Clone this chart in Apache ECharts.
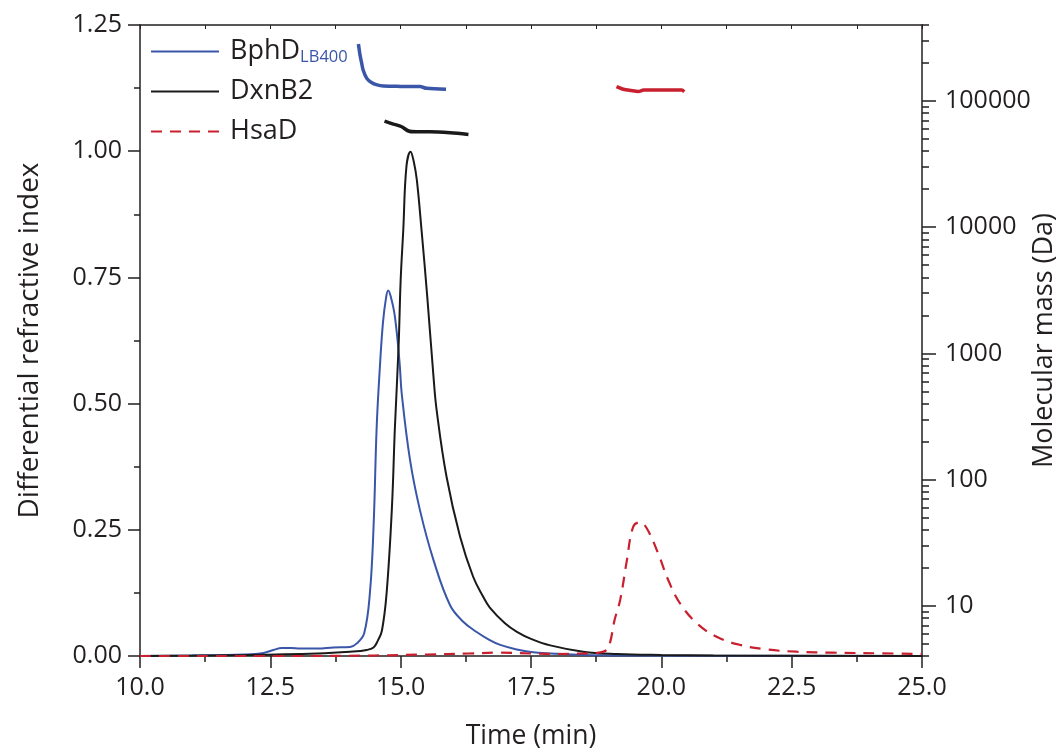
<!DOCTYPE html>
<html>
<head>
<meta charset="utf-8">
<script src="https://cdn.jsdelivr.net/npm/echarts@6/dist/echarts.min.js"></script>
<style>
html,body{margin:0;padding:0;background:#fff;}
#chart{width:1060px;height:749px;}
</style>
</head>
<body>
<div id="chart"></div>
<script>
// ---- Data ----
const xTickLabels = ['10.0','12.5','15.0','17.5','20.0','22.5','25.0'];
const yTickLabels = ['0.00','0.25','0.50','0.75','1.00','1.25'];
const massTickValues = [10, 100, 1000, 10000, 100000];

// Differential refractive index traces
const bphdT  = [10, 11, 12, 12.37, 12.56, 12.72, 12.9, 13.07, 13.4, 13.71, 14.03, 14.16, 14.3, 14.41, 14.48, 14.54, 14.60, 14.66, 14.72, 14.76, 14.81, 14.89, 14.98, 15.02, 15.18, 15.37, 15.63, 15.95, 16.2, 16.45, 16.7, 16.91, 17.23, 17.5, 17.9, 18.5, 19.5, 25];
const bphdRI = [0, 0.001, 0.003, 0.006, 0.012, 0.016, 0.016, 0.015, 0.015, 0.017, 0.018, 0.025, 0.045, 0.125, 0.256, 0.454, 0.57, 0.66, 0.71, 0.724, 0.712, 0.672, 0.58, 0.52, 0.388, 0.289, 0.19, 0.10, 0.068, 0.048, 0.032, 0.022, 0.013, 0.008, 0.005, 0.002, 0.001, 0];

const dxnT  = [10, 12, 13.4, 14.03, 14.35, 14.48, 14.56, 14.64, 14.73, 14.83, 14.89, 14.96, 15.0, 15.05, 15.11, 15.19, 15.25, 15.31, 15.40, 15.51, 15.63, 15.69, 15.88, 16.14, 16.39, 16.58, 16.71, 17.0, 17.23, 17.5, 17.87, 18.5, 19.14, 20, 21, 25];
const dxnRI = [0, 0.002, 0.005, 0.0085, 0.012, 0.017, 0.03, 0.05, 0.124, 0.289, 0.454, 0.613, 0.745, 0.844, 0.969, 0.999, 0.98, 0.943, 0.844, 0.712, 0.553, 0.487, 0.355, 0.236, 0.157, 0.118, 0.096, 0.065, 0.048, 0.034, 0.021, 0.0085, 0.004, 0.002, 0.001, 0];

const hsaT  = [10, 13, 14.5, 15.5, 16.3, 16.9, 17.5, 18.0, 18.5, 18.8, 18.95, 19.02, 19.1, 19.21, 19.34, 19.46, 19.59, 19.72, 19.94, 20.13, 20.36, 20.68, 21.06, 21.51, 22.02, 22.6, 23.3, 24.2, 25];
const hsaRI = [0, 0, 0.001, 0.003, 0.005, 0.0066, 0.005, 0.004, 0.005, 0.0066, 0.012, 0.028, 0.07, 0.111, 0.19, 0.256, 0.265, 0.253, 0.203, 0.151, 0.104, 0.065, 0.038, 0.022, 0.013, 0.0085, 0.0066, 0.0053, 0.004];

// Molecular mass traces (Da)
const bphdMassT = [14.19, 14.22, 14.25, 14.28, 14.35, 14.44, 14.55, 14.67, 15.0, 15.37, 15.5, 15.87];
const bphdMass  = [283000, 232000, 201000, 176000, 151000, 140000, 134000, 131500, 130500, 130000, 126000, 124000];
const dxnMassT  = [14.69, 14.86, 15.02, 15.15, 15.3, 15.56, 15.95, 16.30];
const dxnMass   = [69300, 65600, 62500, 57800, 57000, 57000, 56000, 54300];
const hsaMassT  = [19.14, 19.27, 19.42, 19.56, 19.66, 20.0, 20.39, 20.44];
const hsaMass   = [130000, 124000, 121000, 119000, 122000, 122000, 122000, 118500];

const zip = (a, b) => a.map((v, i) => [v, b[i]]);

const BLUE = '#3a56a8', BLACK = '#1a1a1a', RED = '#c8202f', TXT = '#231f20';
const FONT = 'Open Sans';

// minor log ticks
const minorMass = [];
for (let e = 0; e <= 5; e++) for (let k = 2; k <= 9; k++) {
  const v = k * Math.pow(10, e);
  if (v >= 4 && v <= 400000) minorMass.push(v);
}

const chart = echarts.init(document.getElementById('chart'), null, {renderer: 'canvas'});
chart.setOption({
  animation: false,
  backgroundColor: '#fff',
  textStyle: {fontFamily: FONT, color: TXT},
  grid: {left: 140, right: 138, top: 25, bottom: 93, containLabel: false, outerBoundsMode: 'none'},
  legend: {
    orient: 'vertical', left: 150, top: 36, padding: 0, itemWidth: 68, itemHeight: 2, itemGap: 9,
    itemStyle: {color: 'rgba(0,0,0,0)', borderColor: 'rgba(0,0,0,0)', borderWidth: 0},
    data: [
      {name: 'BphD', textStyle: {color: BLUE}},
      {name: 'DxnB2', textStyle: {color: BLACK}},
      {name: 'HsaD', textStyle: {color: RED}}
    ],
    formatter: n => n === 'BphD' ? '{m|BphD}{sub|LB400}' : '{m|' + n + '}',
    textStyle: {
      fontFamily: FONT, fontSize: 27, lineHeight: 31,
      rich: {
        m: {fontSize: 27, fontFamily: FONT, padding: [0, 0, 0, 6], lineHeight: 31},
        sub: {fontSize: 16.5, fontFamily: FONT, color: BLUE, padding: [12, 0, 0, 0], lineHeight: 31}
      }
    }
  },
  xAxis: [{
    type: 'value', min: 10, max: 25, interval: 2.5,
    name: 'Time (min)', nameLocation: 'middle', nameGap: 67, nameMoveOverlap: false,
    nameTextStyle: {fontFamily: FONT, fontSize: 26.5, color: TXT},
    axisLine: {show: true, lineStyle: {color: TXT, width: 1.5}},
    axisTick: {show: true, inside: false, length: 12, lineStyle: {color: TXT, width: 1.5}},
    minorTick: {show: true, splitNumber: 2, length: 6, lineStyle: {color: TXT, width: 1.5}},
    axisLabel: {fontFamily: FONT, fontSize: 25, color: TXT, margin: 19,
      formatter: v => xTickLabels[Math.round((v - 10) / 2.5)]},
    splitLine: {show: false}
  }, {
    type: 'value', min: 10, max: 25, interval: 1.25, position: 'top',
    axisLine: {show: true, lineStyle: {color: TXT, width: 1.5}},
    axisTick: {show: true, inside: true, length: 4, lineStyle: {color: TXT, width: 1}},
    axisLabel: {show: false}, splitLine: {show: false}
  }],
  yAxis: [{
    type: 'value', min: 0, max: 1.25, interval: 0.25, position: 'left',
    name: 'Differential refractive index', nameLocation: 'middle', nameGap: 96, nameMoveOverlap: false,
    nameTextStyle: {fontFamily: FONT, fontSize: 28, color: TXT},
    axisLine: {show: true, lineStyle: {color: TXT, width: 1.5}},
    axisTick: {show: true, inside: false, length: 12, lineStyle: {color: TXT, width: 1.5}},
    minorTick: {show: true, splitNumber: 2, length: 6, lineStyle: {color: TXT, width: 1.5}},
    axisLabel: {fontFamily: FONT, fontSize: 25, color: TXT, margin: 18,
      formatter: v => yTickLabels[Math.round(v / 0.25)]},
    splitLine: {show: false}
  }, {
    type: 'log', logBase: 10, min: 4, max: 400000, position: 'right',
    name: 'Molecular mass (Da)', nameLocation: 'middle', nameGap: 109, nameRotate: 90, nameMoveOverlap: false,
    nameTextStyle: {fontFamily: FONT, fontSize: 27, color: TXT},
    axisLine: {show: true, lineStyle: {color: TXT, width: 1.5}},
    axisTick: {show: true, inside: false, length: 14, customValues: massTickValues, lineStyle: {color: TXT, width: 1.5}},
    axisLabel: {fontFamily: FONT, fontSize: 25, color: TXT, margin: 23, customValues: massTickValues,
      formatter: v => String(Math.round(v))},
    splitLine: {show: false}
  }, {
    type: 'log', logBase: 10, min: 4, max: 400000, position: 'right',
    axisLine: {show: false},
    axisTick: {show: true, inside: false, length: 7, customValues: minorMass, lineStyle: {color: TXT, width: 1.5}},
    axisLabel: {show: false}, splitLine: {show: false}
  }],
  series: [
    {name: 'BphD', type: 'line', xAxisIndex: 0, yAxisIndex: 0, data: zip(bphdT, bphdRI),
      showSymbol: false, symbol: 'none', smooth: 0.4, lineStyle: {color: BLUE, width: 2}, itemStyle: {color: BLUE}, z: 3},
    {name: 'DxnB2', type: 'line', xAxisIndex: 0, yAxisIndex: 0, data: zip(dxnT, dxnRI),
      showSymbol: false, symbol: 'none', smooth: 0.4, lineStyle: {color: BLACK, width: 2}, itemStyle: {color: BLACK}, z: 3},
    {name: 'HsaD', type: 'line', xAxisIndex: 0, yAxisIndex: 0, data: zip(hsaT, hsaRI),
      showSymbol: false, symbol: 'none', smooth: 0.4, lineStyle: {color: RED, width: 2.2, type: [11, 8]}, itemStyle: {color: RED}, z: 4},
    {name: 'BphD mass', type: 'line', xAxisIndex: 0, yAxisIndex: 1, data: zip(bphdMassT, bphdMass),
      showSymbol: false, symbol: 'none', smooth: 0.3, lineStyle: {color: BLUE, width: 3.5}},
    {name: 'DxnB2 mass', type: 'line', xAxisIndex: 0, yAxisIndex: 1, data: zip(dxnMassT, dxnMass),
      showSymbol: false, symbol: 'none', smooth: 0.3, lineStyle: {color: BLACK, width: 3.5}},
    {name: 'HsaD mass', type: 'line', xAxisIndex: 0, yAxisIndex: 1, data: zip(hsaMassT, hsaMass),
      showSymbol: false, symbol: 'none', smooth: 0.3, lineStyle: {color: RED, width: 3.5}}
  ]
});
</script>
</body>
</html>
